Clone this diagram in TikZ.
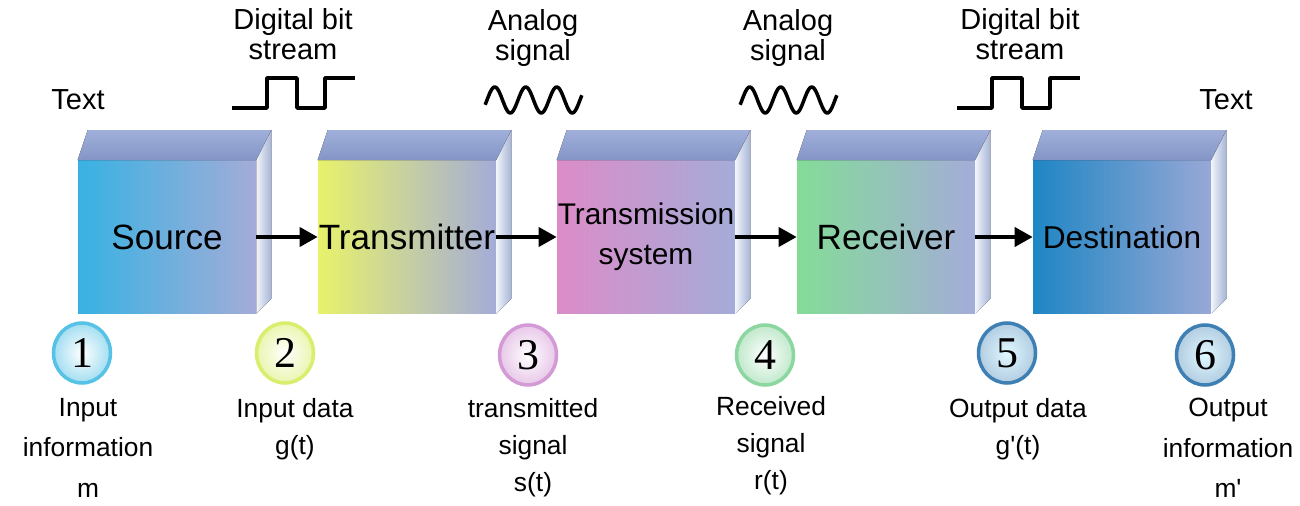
\documentclass[tikz,border=0pt]{standalone}
\usepackage{fontspec}
\setmainfont{Liberation Sans}
\newfontfamily\digitfont{Liberation Serif}
\usetikzlibrary{arrows.meta,shapes.geometric}

\definecolor{topfront}{HTML}{8494C6}
\definecolor{topback}{HTML}{A0B0DA}
\definecolor{sidelight}{HTML}{F0F4FA}
\definecolor{sidedark}{HTML}{A6B4D6}
\definecolor{lavender}{HTML}{A4ACD8}
\definecolor{srcleft}{HTML}{38B2E2}
\definecolor{srcmid}{HTML}{9CC6F2}
\definecolor{txleft}{HTML}{E8F26A}
\definecolor{txmid}{HTML}{C8DCB4}
\definecolor{chleft}{HTML}{DC8CC8}
\definecolor{chmid}{HTML}{C0B0E4}
\definecolor{rxleft}{HTML}{84DC98}
\definecolor{rxmid}{HTML}{A8CCD0}
\definecolor{dstleft}{HTML}{1E86C4}
\definecolor{dstmid}{HTML}{6A9ED4}
\definecolor{dstright}{HTML}{98A8D6}
\definecolor{ringcyan}{HTML}{56C2E6}
\definecolor{ringyellow}{HTML}{D8EE6C}
\definecolor{ringpink}{HTML}{D49AD6}
\definecolor{ringgreen}{HTML}{8CD6A0}
\definecolor{ringblue}{HTML}{3F80B4}
\definecolor{innerblue}{HTML}{E0F8FF}

\begin{document}
\begin{tikzpicture}[x=0.02cm, y=-0.02cm,
  every node/.style={align=center, font=\fontsize{16.5}{17}\selectfont},
  face/.style={minimum width=3.56cm, minimum height=3.06cm, inner sep=0pt,
               font=\fontsize{20}{22}\selectfont},
  topface/.style={top color=topback, bottom color=topfront},
  sideface/.style={left color=sidelight, right color=sidedark},
  numc/.style={ellipse, minimum width=1.14cm, minimum height=1.2cm, inner sep=0pt,
               line width=2pt, font=\digitfont\fontsize{25}{25}\selectfont},
  lbl/.style={anchor=north, inner sep=0pt, font=\fontsize{15}{21}\selectfont},
  arr/.style={-{Triangle[length=3.6mm, width=3.8mm]}, line width=2.2pt},
  wave/.style={line width=2pt, line join=round}
]
\useasboundingbox (0,0) rectangle (1300,506);

% the five blocks
\node[face, left color=srcleft, middle color=srcmid, right color=lavender]
  (src) at (167,237) {Source};
\node[face, left color=txleft, middle color=txmid, right color=lavender]
  (tx) at (407,237) {Transmitter};
\node[face, left color=chleft, middle color=chmid, right color=lavender,
      font=\fontsize{17}{23}\selectfont]
  (ch) at (646,237) {Transmission\\system};
\node[face, left color=rxleft, middle color=rxmid, right color=lavender]
  (rx) at (886,237) {Receiver};
\node[face, left color=dstleft, middle color=dstmid, right color=dstright,
      font=\fontsize{18}{20}\selectfont]
  (dst) at (1122,237) {Destination};

\foreach \b in {src, tx, ch, rx, dst} {
  \fill[topface] (\b.north west) -- ([shift={(10,-30)}]\b.north west)
    -- ([shift={(15,-30)}]\b.north east) -- (\b.north east) -- cycle;
  \fill[sideface] (\b.north east) -- ([shift={(15,-30)}]\b.north east)
    -- ([shift={(15,-15)}]\b.south east) -- (\b.south east) -- cycle;
}

\draw[arr] (src) -- (tx);
\draw[arr] (tx) -- (ch);
\draw[arr] (ch) -- (rx);
\draw[arr] (rx) -- (dst);

% signals above
\node (txt1) at (78,100) {Text};
\node (dig1) at (293,34) {Digital bit\\stream};
\node (ana1) at (533,38) {Analog\\signal};
\node (ana2) at (788,38) {Analog\\signal};
\node (dig2) at (1020,34) {Digital bit\\stream};
\node (txt2) at (1226,100) {Text};

\foreach \dx in {0, 725}
  \draw[wave] (232+\dx,108) -- (267+\dx,108) -- (267+\dx,78) -- (297+\dx,78)
    -- (297+\dx,108) -- (325+\dx,108) -- (325+\dx,78) -- (355+\dx,78);
\foreach \dx in {0, 255}
  \draw[wave] plot[domain=-0.06:3.06, samples=90, smooth]
    ({487+\dx+31*\x}, {100-13*sin(360*\x)});

% numbered points
\node[numc, draw=ringcyan, inner color=white, outer color=ringcyan!55] (n1) at (82,353) {1};
\node[numc, draw=ringyellow, inner color=white, outer color=ringyellow!55] (n2) at (285,353) {2};
\node[numc, draw=ringpink, inner color=white, outer color=ringpink!55] (n3) at (528,355) {3};
\node[numc, draw=ringgreen, inner color=white, outer color=ringgreen!55] (n4) at (765,355) {4};
\node[numc, draw=ringblue, inner color=innerblue, outer color=ringblue!40] (n5) at (1007,353) {5};
\node[numc, draw=ringblue, inner color=innerblue, outer color=ringblue!40] (n6) at (1205,355) {6};

\node[lbl, font=\fontsize{15}{23}\selectfont] (l1) at (88,398) {Input\\information\\m};
\node[lbl] (l2) at (295,398) {Input data\\g(t)};
\node[lbl] (l3) at (533,398) {transmitted\\signal\\s(t)};
\node[lbl] (l4) at (771,396) {Received\\signal\\r(t)};
\node[lbl] (l5) at (1018,398) {Output data\\g\textquotesingle(t)};
\node[lbl, font=\fontsize{15}{23}\selectfont] (l6) at (1228,398) {Output\\information\\m\textquotesingle};
\end{tikzpicture}
\end{document}
